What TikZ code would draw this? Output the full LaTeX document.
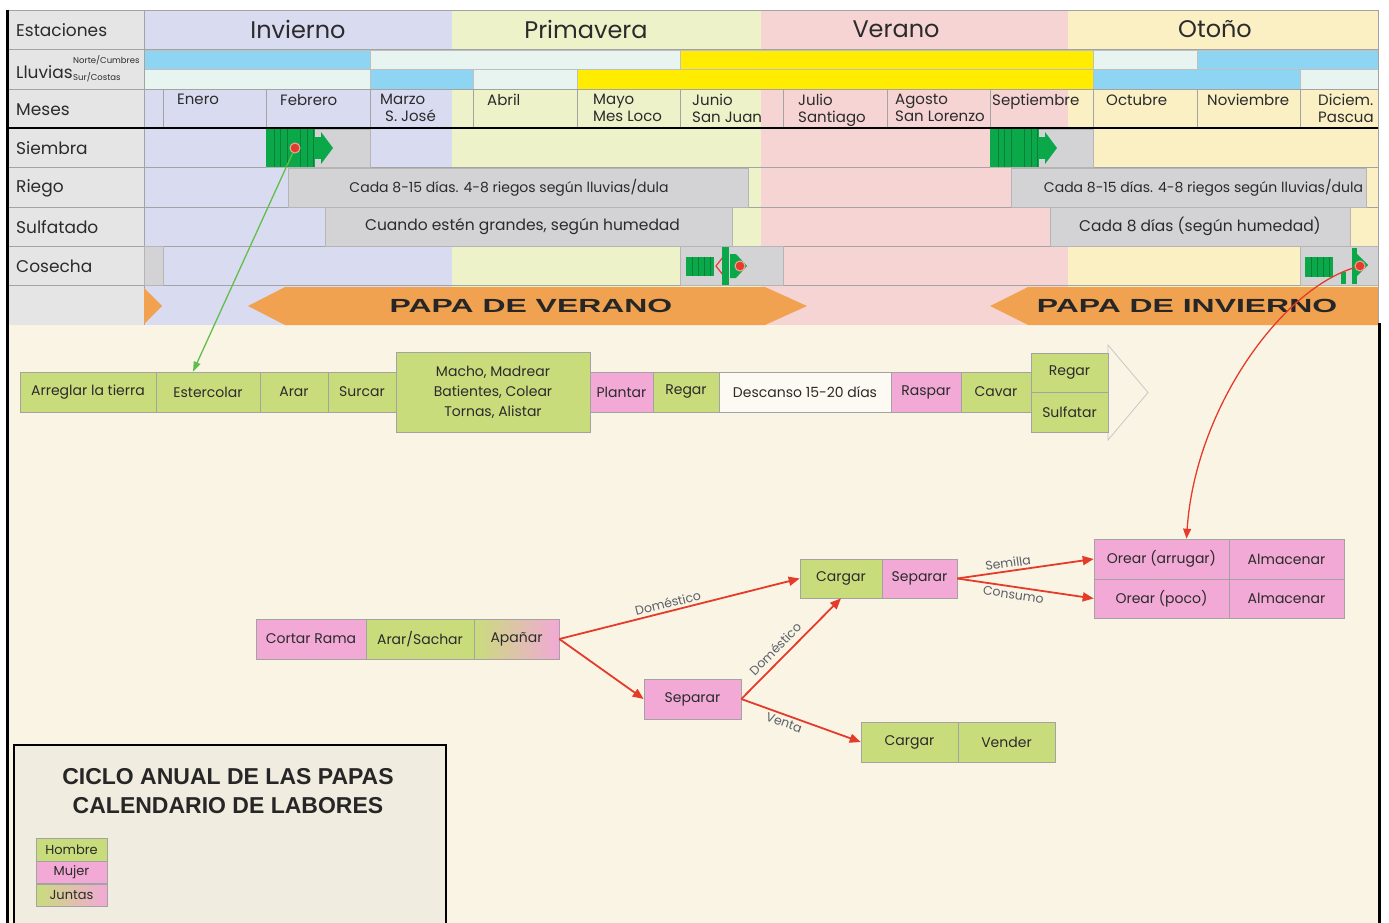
\documentclass[tikz,border=0pt]{standalone}
\usepackage{fontspec}
\usepackage{graphicx}
\setmainfont{Poppins}
\newfontfamily\headfont{Liberation Sans}
\usetikzlibrary{arrows.meta}

\definecolor{inv}{HTML}{D9DCF1}
\definecolor{pri}{HTML}{EDF2C9}
\definecolor{ver}{HTML}{F6D4D4}
\definecolor{oto}{HTML}{FAF0C4}
\definecolor{lab}{HTML}{E5E5E5}
\definecolor{gbox}{HTML}{D3D3D5}
\definecolor{rainb}{HTML}{8ED4F3}
\definecolor{rainl}{HTML}{E7F4EF}
\definecolor{rainy}{HTML}{FFEC00}
\definecolor{hgreen}{HTML}{C9DC7C}
\definecolor{mpink}{HTML}{F2A9D6}
\definecolor{cream}{HTML}{FAF4E4}
\definecolor{legbg}{HTML}{F1ECE0}
\definecolor{orng}{HTML}{F0A250}
\definecolor{icg}{HTML}{0BA84A}
\definecolor{icd}{HTML}{08803A}
\definecolor{arred}{HTML}{E53B2B}
\definecolor{argreen}{HTML}{62BE4A}
\definecolor{lines}{HTML}{A3A3A3}
\definecolor{txt}{HTML}{2B2B2B}
\definecolor{lbltxt}{HTML}{5A6068}

\tikzset{
  cell/.style={draw=lines, line width=0.6pt, inner sep=0pt, align=center, text=txt, font=\fontsize{14}{20}\selectfont},
  man/.style={cell, fill=hgreen},
  woman/.style={cell, fill=mpink},
  both/.style={cell, left color=hgreen, right color=mpink},
  rest/.style={cell, fill=cream!50!white},
  rowlab/.style={anchor=west, inner sep=0pt, text=txt, font=\fontsize{17}{20}\selectfont},
  month/.style={anchor=north west, inner sep=0pt, align=left, text=txt, font=\fontsize{15}{17}\selectfont},
  season/.style={inner sep=0pt, text=txt, font=\fontsize{24}{28}\selectfont},
  gbx/.style={draw=lines!80, line width=0.5pt, fill=gbox, inner sep=0pt, text=txt, font=\fontsize{15.5}{18}\selectfont},
  papa/.style={inner sep=0pt, text=black!85, font=\headfont\bfseries\fontsize{19}{20}\selectfont},
  redarrow/.style={draw=arred, line width=1.8pt, -{Triangle[length=11pt,width=9pt]}},
  lbl/.style={font=\fontsize{12.5}{13}\selectfont, text=lbltxt, sloped, inner sep=2.5pt},
  dotn/.style={circle, fill=arred, draw=arred!45, line width=1pt, minimum size=10pt, inner sep=0pt},
  leg/.style={cell, minimum width=71pt, font=\fontsize{13}{15}\selectfont},
}

\begin{document}
\begin{tikzpicture}[x=1pt,y=-1pt]
\useasboundingbox (0,0) rectangle (1389,923);
\fill[white] (0,0) rectangle (1389,923);
\fill[cream] (8,325) rectangle (1379,923);
% seasons
\fill[inv] (144,10) rectangle (452,325);
\fill[pri] (452,10) rectangle (761,325);
\fill[ver] (761,10) rectangle (1068,325);
\fill[oto] (1068,10) rectangle (1378,325);
\fill[lab] (8,10) rectangle (144,325);
% rain bars
\foreach \a/\b/\c in {144/370/rainb, 370/680/rainl, 680/1093/rainy, 1093/1197/rainl, 1197/1378/rainb}
  \filldraw[fill=\c, draw=lines!70, line width=0.4pt] (\a,50) rectangle (\b,69.5);
\foreach \a/\b/\c in {144/370/rainl, 370/473/rainb, 473/577/rainl, 577/1093/rainy, 1093/1300/rainb, 1300/1378/rainl}
  \filldraw[fill=\c, draw=lines!70, line width=0.4pt] (\a,69.5) rectangle (\b,89);
% grid
\foreach \yy in {10,49.5,89,167.5,207,246.5,285.5}
  \draw[lines, line width=0.7pt] (8,\yy) -- (1378,\yy);
\draw[lines, line width=0.7pt] (144,10) -- (144,325);
\foreach \xx in {163,266,370,473,577,680,783,887,990,1093,1197,1300}
  \draw[lines, line width=0.6pt] (\xx,89) -- (\xx,127);
\draw[black, line width=2.5pt] (8,128) -- (1378,128);

% seasons titles
\node[season] (sinv) at (298,29) {Invierno};
\node[season] (spri) at (586,29) {Primavera};
\node[season] (sver) at (896,29) {Verano};
\node[season] (soto) at (1215,29) {Otoño};

% row labels
\node[rowlab] (lest) at (16,30) {Estaciones};
\node[rowlab] (llluv) at (16,72) {Lluvias};
\node[anchor=west, inner sep=0pt, text=txt, font=\fontsize{8.5}{9}\selectfont] (lnc) at (73,60) {Norte/Cumbres};
\node[anchor=west, inner sep=0pt, text=txt, font=\fontsize{8.5}{9}\selectfont] (lsc) at (73,77) {Sur/Costas};
\node[rowlab] (lmes) at (16,110) {Meses};
\node[rowlab] (lsie) at (16,148) {Siembra};
\node[rowlab] (lrie) at (16,188) {Riego};
\node[rowlab] (lsul) at (16,227) {Sulfatado};
\node[rowlab] (lcos) at (16,266) {Cosecha};

% months
\node[month] (m1) at (177,94) {Enero};
\node[month] (m2) at (280,94) {Febrero};
\node[month] (m3) at (380,94) {Marzo\\\hspace*{5pt}S. José};
\node[month] (m4) at (487,94) {Abril};
\node[month] (m5) at (593,94) {Mayo\\Mes Loco};
\node[month] (m6) at (692,94) {Junio\\San Juan};
\node[month] (m7) at (798,94) {Julio\\Santiago};
\node[month] (m8) at (895,94) {Agosto\\San Lorenzo};
\node[month] (m9) at (992,94) {Septiembre};
\node[month] (m10) at (1106,94) {Octubre};
\node[month] (m11) at (1207,94) {Noviembre};
\node[month] (m12) at (1318,94) {Diciem.\\Pascua};

% grey boxes
\node[gbx, minimum width=104pt, minimum height=38pt] (siem1) at (318,148) {};
\node[gbx, minimum width=103pt, minimum height=38pt] (siem2) at (1041.5,148) {};
\node[gbx, minimum width=460pt, minimum height=39pt, font=\fontsize{14}{15}\selectfont] (riego1) at (518,187.5) {Cada 8-15 días. 4-8 riegos según lluvias/dula\hspace*{18pt}};
\node[gbx, minimum width=355pt, minimum height=39pt, font=\fontsize{14}{15}\selectfont] (riego2) at (1188.5,187.5) {\hspace*{30pt}Cada 8-15 días. 4-8 riegos según lluvias/dula};
\node[gbx, minimum width=407pt, minimum height=39pt] (sulf1) at (528.5,226.5) {Cuando estén grandes, según humedad\hspace*{12pt}};
\node[gbx, minimum width=300pt, minimum height=39pt] (sulf2) at (1200,226.5) {Cada 8 días (según humedad)};
\node[gbx, minimum width=19pt, minimum height=39pt] (cos0) at (153.5,266) {};
\node[gbx, minimum width=103pt, minimum height=39pt] (cos1) at (731.5,266) {};
\node[gbx, minimum width=78pt, minimum height=39pt] (cos2) at (1339,266) {};

% siembra icons
\foreach \ox in {266,990}{
  \begin{scope}[shift={(\ox,129)}]
    \fill[icg] (0,0) rectangle (49,38);
    \foreach \sx in {8,14,21,34,41,47} \draw[icd, line width=1pt] (\sx,0) -- (\sx,38);
    \fill[icg] (49,8) rectangle (56,30);
    \fill[icg] (55,3) -- (67,19) -- (55,35) -- cycle;
  \end{scope}
}
% cosecha icon 1
\begin{scope}[shift={(680,246)}]
  \fill[icg] (6,11) rectangle (34,30);
  \foreach \sx in {12,18,24,30} \draw[icd, line width=1pt] (\sx,11) -- (\sx,30);
  \draw[arred, line width=1.2pt] (43,11) -- (36,20) -- (43,29);
  \fill[icg] (42,1) rectangle (49,39);
  \fill[icg] (50,8) -- (56,8) -- (67,20) -- (56,32) -- (50,32) -- cycle;
\end{scope}
% cosecha icon 2
\begin{scope}[shift={(1300,246)}]
  \fill[icg] (5,11) rectangle (33,31);
  \foreach \sx in {11,17,23,29} \draw[icd, line width=1pt] (\sx,11) -- (\sx,31);
  \fill[icg] (41,26) rectangle (46,38);
  \fill[icg] (52,2) rectangle (57,38);
  \fill[icg] (57,8) -- (68,19) -- (57,30) -- cycle;
\end{scope}
\node[dotn] (d1) at (295,148) {};
\node[dotn] (d2) at (740,266) {};
\node[dotn] (d3) at (1360,266) {};

% orange bands
\fill[orng] (144,288) -- (162,306) -- (144,324) -- cycle;
\fill[orng] (248,306) -- (285,287) -- (765,287) -- (807,306) -- (765,325) -- (285,325) -- cycle;
\node[papa] (pv) at (531,306) {\scalebox{1.68}[1]{PAPA DE VERANO}};
\fill[orng] (990,306) -- (1028,287) -- (1378,287) -- (1378,325) -- (1028,325) -- cycle;
\node[papa] (pinv) at (1187,306) {\scalebox{1.68}[1]{PAPA DE INVIERNO}};

% borders
\draw[black, line width=3pt] (7,10) -- (7,923);
\draw[lines, line width=0.7pt] (1378,10) -- (1378,325);
\draw[black, line width=3pt] (1379.5,323) -- (1379.5,923);

% row of tasks
\draw[black!22, line width=0.8pt] (1108,353) -- (1108,345) -- (1148,392.5) -- (1108,440) -- (1108,432);
\node[man, minimum width=136pt, minimum height=40pt] (arreglar) at (88,392) {Arreglar la tierra};
\node[man, minimum width=104pt, minimum height=40pt] (estercolar) at (208,392) {Estercolar};
\node[man, minimum width=68pt, minimum height=40pt] (arar) at (294,392) {Arar};
\node[man, minimum width=68pt, minimum height=40pt] (surcar) at (362,392) {Surcar};
\node[man, minimum width=194pt, minimum height=80pt] (macho) at (493,392) {Macho, Madrear\\Batientes, Colear\\Tornas, Alistar};
\node[woman, minimum width=63pt, minimum height=40pt] (plantar) at (621.5,392) {Plantar};
\node[man, minimum width=66pt, minimum height=40pt] (regar1) at (686,392) {Regar};
\node[rest, minimum width=172pt, minimum height=40pt] (descanso) at (805,392) {Descanso 15-20 días};
\node[woman, minimum width=70pt, minimum height=40pt] (raspar) at (926,392) {Raspar};
\node[man, minimum width=70pt, minimum height=40pt] (cavar) at (996,392) {Cavar};
\node[man, minimum width=77pt, minimum height=39pt] (regar2) at (1069.5,372.5) {Regar};
\node[man, minimum width=77pt, minimum height=40pt] (sulfatar) at (1069.5,412) {Sulfatar};

% harvest flow
\node[woman, minimum width=110pt, minimum height=40pt] (cortar) at (311,639) {Cortar Rama};
\node[man, minimum width=108pt, minimum height=40pt] (sachar) at (420,639) {Arar/Sachar};
\node[both, minimum width=85pt, minimum height=40pt] (apanar) at (516.5,639) {Apañar};
\node[man, minimum width=82pt, minimum height=39pt] (cargar1) at (841,578.5) {Cargar};
\node[woman, minimum width=75pt, minimum height=39pt] (separar1) at (919.5,578.5) {Separar};
\node[woman, minimum width=97pt, minimum height=40pt] (separar2) at (692.5,699) {Separar};
\node[woman, minimum width=135pt, minimum height=40pt] (orear1) at (1161.5,559) {Orear (arrugar)};
\node[woman, minimum width=115pt, minimum height=40pt] (alm1) at (1286.5,559) {Almacenar};
\node[woman, minimum width=135pt, minimum height=39pt] (orear2) at (1161.5,598.5) {Orear (poco)};
\node[woman, minimum width=115pt, minimum height=39pt] (alm2) at (1286.5,598.5) {Almacenar};
\node[man, minimum width=97pt, minimum height=40pt] (cargar2) at (909.5,742) {Cargar};
\node[man, minimum width=97pt, minimum height=40pt] (vender) at (1006.5,742) {Vender};

% connectors
\draw[redarrow] (apanar.east) -- node[lbl, above, pos=0.46] {Doméstico} (cargar1.west);
\draw[redarrow] (apanar.east) -- (separar2.west);
\draw[redarrow] (separar2.east) -- node[lbl, above=3pt, pos=0.42] {Doméstico} (cargar1.south);
\draw[redarrow] (separar2.east) -- node[lbl, below, pos=0.38] {Venta} (cargar2.west);
\draw[redarrow] (separar1.east) -- node[lbl, above, pos=0.38] {Semilla} (orear1.west);
\draw[redarrow] (separar1.east) -- node[lbl, below, pos=0.42] {Consumo} (orear2.west);
\draw[argreen, line width=1.3pt, -{Triangle[length=10pt,width=7pt]}] (d1) -- ([xshift=-15pt]estercolar.north);
\draw[arred, line width=1.3pt, -{Triangle[length=10pt,width=8pt]}] (d3) .. controls (1280,290) and (1195,410) .. ([xshift=25pt]orear1.north);

% legend
\draw[fill=legbg, draw=black, line width=2.5pt] (14,745) rectangle (446,925);
\node[inner sep=0pt, text=black!85, font=\headfont\bfseries\fontsize{23}{26}\selectfont, align=center] (title) at (228,791) {CICLO ANUAL DE LAS PAPAS\\[3pt]CALENDARIO DE LABORES};
\node[leg, fill=hgreen, minimum height=23pt] (hombre) at (71.5,849.5) {Hombre};
\node[leg, fill=mpink, minimum height=22pt] (mujer) at (71.5,872) {Mujer};
\node[leg, left color=hgreen, right color=mpink, minimum height=22pt] (juntas) at (71.5,895) {Juntas};
\end{tikzpicture}
\end{document}
